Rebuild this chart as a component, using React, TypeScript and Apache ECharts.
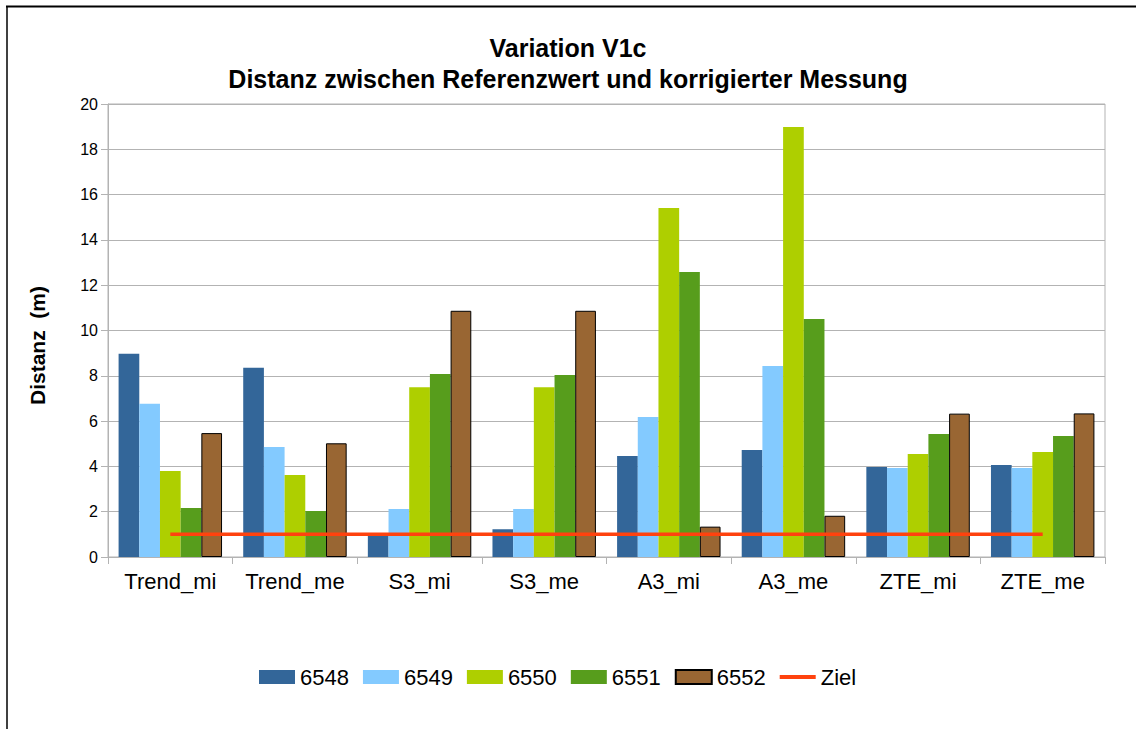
import React, { useEffect, useRef } from "react";
import * as echarts from "echarts";

const categories = ["Trend_mi", "Trend_me", "S3_mi", "S3_me", "A3_mi", "A3_me", "ZTE_mi", "ZTE_me"];
const s6548 = [8.97, 8.35, 1.0, 1.22, 4.46, 4.72, 3.97, 4.06];
const s6549 = [6.77, 4.86, 2.12, 2.12, 6.18, 8.43, 3.93, 3.93];
const s6550 = [3.8, 3.62, 7.5, 7.5, 15.41, 18.98, 4.55, 4.64];
const s6551 = [2.16, 2.03, 8.08, 8.04, 12.58, 10.51, 5.43, 5.34];
const s6552 = [5.47, 5.02, 10.87, 10.87, 1.34, 1.82, 6.33, 6.34];
const ziel = [1, 1, 1, 1, 1, 1, 1, 1];
const yTicks = { min: 0, max: 20, interval: 2 };

const FONT = "'Liberation Sans', Arial, sans-serif";
const LINE_ICON = "path://M0,0 L0.05,0 L0.05,0.05 Z M0,5 L36,5 L36,9 L0,9 Z M35.95,13.95 L36,14 L35.95,14 Z";

export default function App() {
  const ref = useRef<HTMLDivElement>(null);
  useEffect(() => {
    if (!ref.current) return;
    const chart = echarts.init(ref.current, null, { renderer: "svg" });
    const barBase = {
      type: "bar" as const,
      barGap: "0%",
      barCategoryGap: "17%",
    };
    chart.setOption({
      animation: false,
      backgroundColor: "#ffffff",
      textStyle: { fontFamily: FONT, color: "#000" },
      title: {
        text: "Variation V1c\nDistanz zwischen Referenzwert und korrigierter Messung",
        left: "center",
        top: 27,
        textStyle: { fontFamily: FONT, fontSize: 25, fontWeight: "bold", color: "#000", lineHeight: 31 },
      },
      graphic: [
        { type: "line", shape: { x1: 6, y1: 6.5, x2: 1136, y2: 6.5 }, style: { stroke: "#000", lineWidth: 2 } },
        { type: "line", shape: { x1: 7, y1: 6, x2: 7, y2: 729 }, style: { stroke: "#000", lineWidth: 1.5 } },
      ],
      legend: {
        bottom: 36,
        left: 254,
        icon: "rect",
        itemWidth: 36,
        itemHeight: 14,
        itemGap: 14,
        textStyle: { fontFamily: FONT, fontSize: 22, color: "#000" },
        data: ["6548", "6549", "6550", "6551", "6552", { name: "Ziel", icon: LINE_ICON }],
      },
      grid: { left: 108, right: 31, top: 104, bottom: 172, show: true, borderColor: "#b3b3b3", borderWidth: 1 },
      xAxis: {
        type: "category",
        data: categories,
        boundaryGap: true,
        axisLine: { lineStyle: { color: "#b3b3b3", width: 1 } },
        axisTick: { show: true, length: 7, lineStyle: { color: "#b3b3b3" } },
        axisLabel: { fontFamily: FONT, fontSize: 22, color: "#000", margin: 13, interval: 0 },
      },
      yAxis: {
        type: "value",
        min: yTicks.min,
        max: yTicks.max,
        interval: yTicks.interval,
        name: "Distanz  (m)",
        nameLocation: "middle",
        nameGap: 60,
        nameTextStyle: { fontFamily: FONT, fontSize: 21, fontWeight: "bold", color: "#000", padding: [0, 0, 0, -30] },
        axisLine: { show: true, lineStyle: { color: "#b3b3b3", width: 1 } },
        axisTick: { show: true, length: 7, lineStyle: { color: "#b3b3b3" } },
        axisLabel: { fontFamily: FONT, fontSize: 16, color: "#000", margin: 10 },
        splitLine: { lineStyle: { color: "#b3b3b3", width: 1 } },
      },
      series: [
        { ...barBase, name: "6548", data: s6548, itemStyle: { color: "#336699" } },
        { ...barBase, name: "6549", data: s6549, itemStyle: { color: "#83caff" } },
        { ...barBase, name: "6550", data: s6550, itemStyle: { color: "#aecf00" } },
        { ...barBase, name: "6551", data: s6551, itemStyle: { color: "#579d1c" } },
        { ...barBase, name: "6552", data: s6552, itemStyle: { color: "#996633", borderColor: "#000", borderWidth: 1 } },
        {
          type: "line",
          name: "Ziel",
          data: ziel,
          symbol: "none",
          z: 5,
          lineStyle: { color: "#ff420e", width: 3.5 },
          itemStyle: { color: "#ff420e" },
        },
      ],
    });
    return () => chart.dispose();
  }, []);
  return <div ref={ref} style={{ position: "absolute", left: 0, top: 0, width: 1136, height: 729 }} />;
}
